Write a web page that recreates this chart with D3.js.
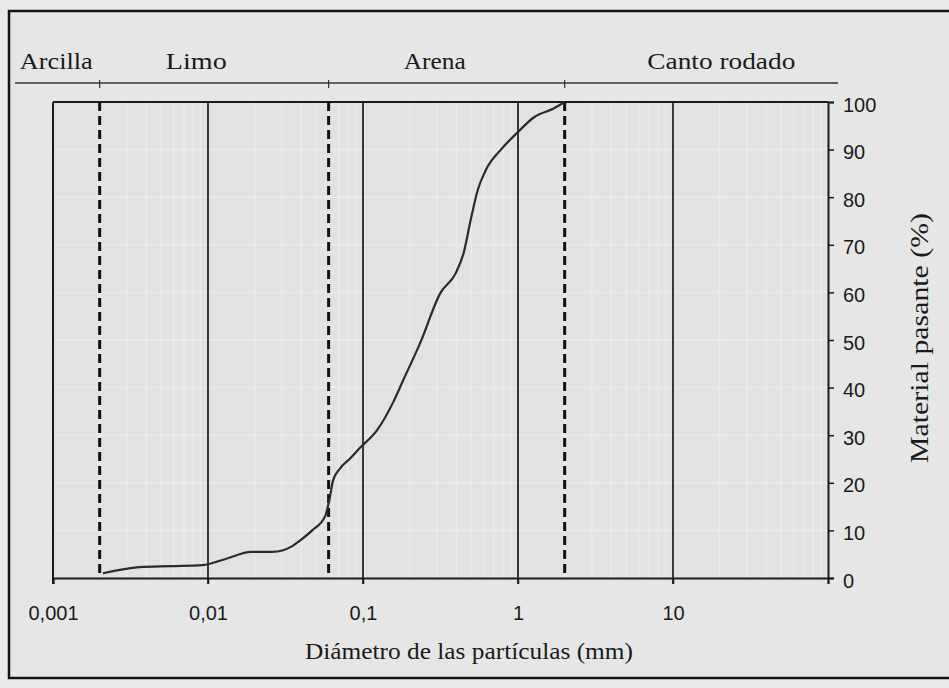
<!DOCTYPE html>
<html>
<head>
<meta charset="utf-8">
<script src="https://cdn.jsdelivr.net/npm/d3@7"></script>
<style>
  html, body { margin: 0; padding: 0; background: #ebebeb; }
  svg { display: block; }
</style>
</head>
<body>
<svg id="chart" width="949" height="688"></svg>
<script>
// grain size curve
const diameter = [0.0021, 0.0036, 0.0058, 0.0092, 0.013, 0.019, 0.026, 0.035, 0.039, 0.047, 0.057, 0.061, 0.064, 0.071, 0.082, 0.096, 0.123, 0.157, 0.182, 0.234, 0.316, 0.396, 0.446, 0.495, 0.55, 0.62, 0.776, 1.0, 1.27, 1.71, 2.0];
const passing = [1, 2.3, 2.5, 2.7, 4, 5.5, 5.5, 6.7, 7.8, 10, 13, 16.8, 20.4, 23, 25, 27.4, 31, 37, 41.6, 49.4, 59.9, 64, 68.3, 75.2, 81.5, 85.7, 90, 93.7, 96.8, 98.7, 100];

const xTicks = [0.001, 0.01, 0.1, 1, 10];
const xTickLabels = ['0,001', '0,01', '0,1', '1', '10'];
const yTicks = [0, 10, 20, 30, 40, 50, 60, 70, 80, 90, 100];
const decadeLines = [0.01, 0.1, 1, 10];
const zoneLimits = [0.002, 0.06, 2];
const zoneNames = ['Arcilla', 'Limo', 'Arena', 'Canto rodado'];
const zoneLabelAt = [0.00105, 0.0084, 0.29, 20.5];

const svg = d3.select('#chart');
const width = 949, height = 688;
const plot = { left: 53, right: 828, top: 102, bottom: 578 };

const xScale = d3.scaleLog().domain([0.001, 100]).range([plot.left, plot.right]);
const yScale = d3.scaleLinear().domain([0, 100]).range([plot.bottom, plot.top]);

const serif = '"Liberation Serif", "DejaVu Serif", serif';
const sans = '"Liberation Sans", Arial, sans-serif';

// page frame
svg.append('rect')
  .attr('x', 0).attr('y', 0).attr('width', width).attr('height', height)
  .attr('fill', '#e9e9e9');
svg.append('rect')
  .attr('x', 9).attr('y', 11).attr('width', 960).attr('height', 667)
  .attr('fill', '#e6e6e6')
  .attr('stroke', '#151515')
  .attr('stroke-width', 2.5);

// plot background
svg.append('rect')
  .attr('x', plot.left).attr('y', plot.top)
  .attr('width', plot.right - plot.left).attr('height', plot.bottom - plot.top)
  .attr('fill', '#e2e2e2');

// faint minor grid
const minor = [];
for (let e = -3; e < 2; e++) {
  for (let m = 2; m <= 9; m++) minor.push(m * Math.pow(10, e));
}
svg.append('g')
  .selectAll('line')
  .data(minor)
  .join('line')
  .attr('x1', d => xScale(d)).attr('x2', d => xScale(d))
  .attr('y1', plot.top).attr('y2', plot.bottom)
  .attr('stroke', '#eaeaea')
  .attr('stroke-width', 1.5);

svg.append('g')
  .selectAll('line')
  .data(yTicks.slice(1, -1))
  .join('line')
  .attr('x1', plot.left).attr('x2', plot.right)
  .attr('y1', d => yScale(d)).attr('y2', d => yScale(d))
  .attr('stroke', '#ebebeb')
  .attr('stroke-width', 1.5);

// decade lines
svg.append('g')
  .selectAll('line')
  .data(decadeLines)
  .join('line')
  .attr('x1', d => xScale(d)).attr('x2', d => xScale(d))
  .attr('y1', plot.top).attr('y2', plot.bottom + 6)
  .attr('stroke', '#1a1a1a')
  .attr('stroke-width', 1.7);

// frame of the plot
svg.append('line')
  .attr('x1', plot.left).attr('x2', plot.right)
  .attr('y1', plot.top).attr('y2', plot.top)
  .attr('stroke', '#1a1a1a').attr('stroke-width', 2);
svg.append('line')
  .attr('x1', plot.left).attr('x2', plot.left)
  .attr('y1', plot.top).attr('y2', plot.bottom + 6)
  .attr('stroke', '#1a1a1a').attr('stroke-width', 2);

// right axis
const rightAxis = svg.append('g')
  .attr('transform', `translate(${plot.right},0)`)
  .call(d3.axisRight(yScale).tickValues(yTicks).tickSize(6).tickPadding(9).tickFormat(d3.format('d')));
rightAxis.select('.domain').attr('stroke', '#1a1a1a').attr('stroke-width', 2);
rightAxis.selectAll('.tick line').attr('stroke', '#1a1a1a').attr('stroke-width', 1.5);
rightAxis.selectAll('.tick text')
  .attr('font-family', sans).attr('font-size', 20).attr('fill', '#1a1a1a')
  .attr('dy', '0.45em');

// bottom axis
const bottomAxis = svg.append('g')
  .attr('transform', `translate(0,${plot.bottom})`)
  .call(d3.axisBottom(xScale).tickValues(xTicks).tickSize(6).tickPadding(22)
    .tickFormat((d, i) => xTickLabels[i]));
bottomAxis.select('.domain').attr('stroke', '#1a1a1a').attr('stroke-width', 2.2);
bottomAxis.selectAll('.tick line').attr('stroke', '#1a1a1a').attr('stroke-width', 1.5);
bottomAxis.selectAll('.tick text')
  .attr('font-family', sans).attr('font-size', 20).attr('fill', '#1a1a1a');

// zone limits (dashed)
svg.append('g')
  .selectAll('line')
  .data(zoneLimits)
  .join('line')
  .attr('x1', d => xScale(d)).attr('x2', d => xScale(d))
  .attr('y1', plot.top).attr('y2', plot.bottom)
  .attr('stroke', '#111')
  .attr('stroke-width', 3)
  .attr('stroke-dasharray', '9,5');

// zone header
const headerY = 83;
const headerWidths = [73, 61, 62, 148];
svg.append('line')
  .attr('x1', 15).attr('x2', 838)
  .attr('y1', headerY).attr('y2', headerY)
  .attr('stroke', '#333').attr('stroke-width', 1.6);
svg.append('g')
  .selectAll('line')
  .data(zoneLimits)
  .join('line')
  .attr('x1', d => xScale(d)).attr('x2', d => xScale(d))
  .attr('y1', headerY - 3).attr('y2', headerY + 5)
  .attr('stroke', '#333').attr('stroke-width', 1.2);
svg.append('g')
  .selectAll('text')
  .data(zoneNames)
  .join('text')
  .attr('x', (d, i) => xScale(zoneLabelAt[i]) - headerWidths[i] / 2)
  .attr('y', 69)
  .attr('font-family', serif)
  .attr('font-size', 24)
  .attr('textLength', (d, i) => headerWidths[i])
  .attr('lengthAdjust', 'spacingAndGlyphs')
  .attr('fill', '#1a1a1a')
  .text(d => d);

// curve
const pts = diameter.map((d, i) => ({ d: d, p: passing[i] }));
const line = d3.line()
  .x(d => xScale(d.d))
  .y(d => yScale(d.p))
  .curve(d3.curveMonotoneX);
svg.append('path')
  .datum(pts)
  .attr('fill', 'none')
  .attr('stroke', '#2a2a2a')
  .attr('stroke-width', 2.2)
  .attr('d', line);

// axis titles
svg.append('text')
  .attr('x', 305).attr('y', 659)
  .attr('font-family', serif).attr('font-size', 23).attr('fill', '#1a1a1a')
  .attr('textLength', 328).attr('lengthAdjust', 'spacingAndGlyphs')
  .text('Diámetro de las partículas (mm)');

svg.append('text')
  .attr('transform', 'translate(928,463) rotate(-90)')
  .attr('font-family', serif).attr('font-size', 25).attr('fill', '#1a1a1a')
  .attr('textLength', 250).attr('lengthAdjust', 'spacingAndGlyphs')
  .text('Material pasante (%)');
</script>
</body>
</html>
